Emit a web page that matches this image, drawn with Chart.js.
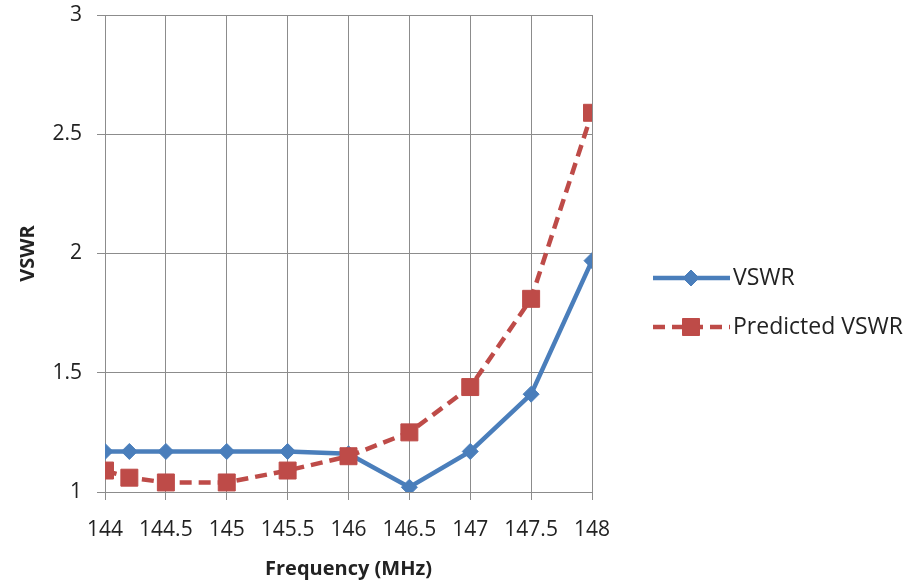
<!DOCTYPE html>
<html>
<head>
<meta charset="utf-8">
<script src="https://cdn.jsdelivr.net/npm/chart.js@4"></script>
<style>
  html, body { margin: 0; padding: 0; background: #fff; }
  #wrap { width: 912px; height: 583px; }
</style>
</head>
<body>
<div id="wrap"><canvas id="vswrChart" width="912" height="583"></canvas></div>
<script>
// frequency points (MHz)
const freq = [144, 144.2, 144.5, 145, 145.5, 146, 146.5, 147, 147.5, 148];
// measured VSWR
const vswr = [1.17, 1.17, 1.17, 1.17, 1.17, 1.16, 1.02, 1.17, 1.41, 1.97];
// predicted VSWR
const predicted = [1.09, 1.06, 1.04, 1.04, 1.09, 1.15, 1.25, 1.44, 1.81, 2.59];
const seriesNames = ['VSWR', 'Predicted VSWR'];

const BLUE = '#4a7ebb';
const RED = '#be4b48';
const GRID = '#8c8c8c';
const FONT = "'Open Sans', sans-serif";

function pts(ys) {
  return freq.map(function(f, i) { return { x: f, y: ys[i] }; });
}

// plain number labels, no trailing .0
function plain(v) { return String(Math.round(v * 10) / 10); }

// legend drawn by hand: line with marker in the middle, like the office chart
const sideLegend = {
  id: 'sideLegend',
  afterDraw: function(chart) {
    const ctx = chart.ctx;
    const rows = [
      { y: 278, ds: chart.data.datasets[0] },
      { y: 327, ds: chart.data.datasets[1] }
    ];
    rows.forEach(function(r) {
      const ds = r.ds;
      ctx.save();
      ctx.strokeStyle = ds.borderColor;
      ctx.lineWidth = ds.borderWidth;
      ctx.setLineDash(ds.borderDash || []);
      ctx.beginPath();
      ctx.moveTo(653, r.y);
      ctx.lineTo(730, r.y);
      ctx.stroke();
      ctx.setLineDash([]);
      ctx.fillStyle = ds.pointBackgroundColor;
      ctx.strokeStyle = ds.pointBorderColor;
      ctx.lineWidth = 1;
      Chart.helpers.drawPoint(ctx, {
        pointStyle: ds.pointStyle,
        radius: ds.pointRadius,
        borderWidth: 1
      }, 691, r.y);
      ctx.fillStyle = '#222';
      ctx.font = '23px ' + FONT;
      ctx.textBaseline = 'middle';
      ctx.fillText(ds.label, 733, r.y);
      ctx.restore();
    });
  }
};

const ctx = document.getElementById('vswrChart').getContext('2d');
const chart = new Chart(ctx, {
  type: 'line',
  data: {
    datasets: [
      {
        label: seriesNames[0],
        data: pts(vswr),
        borderColor: BLUE,
        backgroundColor: BLUE,
        pointBackgroundColor: BLUE,
        pointBorderColor: BLUE,
        borderWidth: 4.5,
        pointStyle: 'rectRot',
        pointRadius: 8,
        pointBorderWidth: 1,
        tension: 0,
        order: 1
      },
      {
        label: seriesNames[1],
        data: pts(predicted),
        borderColor: RED,
        backgroundColor: RED,
        pointBackgroundColor: RED,
        pointBorderColor: RED,
        borderWidth: 4.5,
        borderDash: [12, 7],
        pointStyle: 'rect',
        pointRadius: 12,
        pointBorderWidth: 1,
        tension: 0,
        order: 0
      }
    ]
  },
  options: {
    responsive: false,
    animation: false,
    layout: { padding: { left: 0, right: 320, top: 15, bottom: 0 } },
    plugins: {
      legend: { display: false },
      tooltip: { enabled: false }
    },
    scales: {
      x: {
        type: 'linear',
        min: 144,
        max: 148,
        ticks: {
          stepSize: 0.5, color: '#222', padding: 17,
          maxRotation: 0, minRotation: 0, autoSkip: false,
          font: { family: FONT, size: 21 },
          callback: plain
        },
        grid: { color: GRID, lineWidth: 1, tickLength: 8, tickColor: GRID },
        border: { color: GRID, width: 1 },
        title: {
          display: true,
          text: 'Frequency (MHz)',
          color: '#222',
          font: { family: FONT, size: 20, weight: 'bold' },
          padding: { top: 2, bottom: 2 }
        },
        afterFit: function(s) {
          s.height = 583 - 492;
          s.paddingLeft = 0;
          s.paddingRight = 0;
        }
      },
      y: {
        min: 1,
        max: 3,
        ticks: {
          stepSize: 0.5, color: '#222', padding: 15,
          font: { family: FONT, size: 21 },
          callback: plain
        },
        grid: { color: GRID, lineWidth: 1, tickLength: 8, tickColor: GRID },
        border: { color: GRID, width: 1 },
        title: {
          display: true,
          text: 'VSWR',
          color: '#222',
          font: { family: FONT, size: 20, weight: 'bold' },
          padding: { top: 16, bottom: 4 }
        },
        afterFit: function(s) {
          s.width = 105;
          s.paddingTop = 0;
          s.paddingBottom = 0;
        }
      }
    }
  },
  plugins: [sideLegend]
});
</script>
</body>
</html>
